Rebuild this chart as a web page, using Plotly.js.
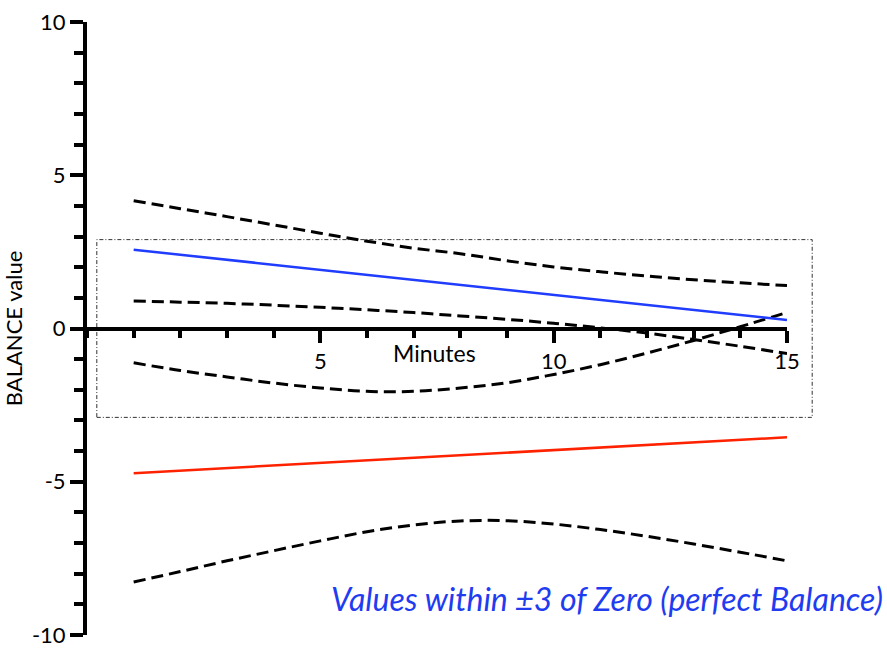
<!DOCTYPE html>
<html>
<head>
<meta charset="utf-8">
<script src="https://cdn.plot.ly/plotly-3.0.1.min.js"></script>
<style>html,body{margin:0;padding:0;background:#fff;}#chart{width:887px;height:648px;}</style>
</head>
<body>
<div id="chart"></div>
<script>
// ---- data ----
const minutes = [1,2,3,4,5,6,7,8,9,10,11,12,13,14,15];
const lineX = [1, 15];
const blueFit = [2.57, 0.28];
const redFit = [-4.72, -3.55];
const blueUpper = [4.17,3.91,3.65,3.38,3.11,2.85,2.62,2.44,2.21,2.01,1.85,1.71,1.59,1.49,1.40];
const blueLower = [0.90,0.86,0.82,0.76,0.69,0.61,0.52,0.41,0.30,0.17,0.02,-0.15,-0.36,-0.58,-0.82];
const redUpper = [-1.12,-1.37,-1.58,-1.78,-1.94,-2.05,-2.05,-1.94,-1.77,-1.50,-1.18,-0.80,-0.39,0.06,0.52];
const redLower = [-8.27,-7.93,-7.58,-7.25,-6.93,-6.63,-6.41,-6.28,-6.27,-6.38,-6.56,-6.78,-7.03,-7.30,-7.58];
const yTickVals = [-10,-5,0,5,10];
const yTickText = ['-10','-5','0','5','10'];
const xTickVals = [5,10,15];
const xTickText = ['5','10','15'];
const balanceBand = [-2.9, 2.9];
const boxX = [0.21, 15.54];
const noteText = 'Values within \u00B13 of Zero (perfect Balance)';

const FONT = "Lato, 'Noto Sans', sans-serif";
const dashStyle = {color:'#000', width:3, dash:'12px,6px'};

function band(y){
  return {x:minutes, y:y, mode:'lines', line:Object.assign({shape:'spline'}, dashStyle),
          showlegend:false, hoverinfo:'skip', cliponaxis:false};
}

const traces = [
  band(blueUpper), band(blueLower), band(redUpper), band(redLower),
  {x:lineX, y:blueFit, mode:'lines', line:{color:'#1f3cff', width:2.5}, showlegend:false, cliponaxis:false},
  {x:lineX, y:redFit, mode:'lines', line:{color:'#ff2200', width:2.5}, showlegend:false, cliponaxis:false}
];

const xRange = [0, 15];
const toPaper = v => (v - xRange[0]) / (xRange[1] - xRange[0]);

const layout = {
  width:887, height:648,
  margin:{l:87, r:100, t:22, b:13},
  paper_bgcolor:'#fff', plot_bgcolor:'#fff',
  font:{family:FONT, color:'#000', size:22},
  xaxis:{
    range:xRange, anchor:'free', position:0.5, side:'bottom',
    showline:true, linewidth:4, linecolor:'#000',
    ticks:'outside', ticklen:12, tickwidth:4, tickcolor:'#000',
    tickvals:xTickVals, ticktext:xTickText,
    tickfont:{family:FONT, size:22, color:'#000'},
    minor:{dtick:1, ticks:'outside', ticklen:7, tickwidth:4, tickcolor:'#000', showgrid:false},
    showgrid:false, zeroline:false
  },
  yaxis:{
    range:[-10,10], showline:true, linewidth:4, linecolor:'#000',
    ticks:'outside', ticklen:13, tickwidth:4, tickcolor:'#000',
    tickvals:yTickVals, ticktext:yTickText, ticklabeloverflow:'allow',
    tickfont:{family:FONT, size:22, color:'#000'},
    minor:{dtick:1, ticks:'outside', ticklen:9, tickwidth:4, tickcolor:'#000', showgrid:false},
    showgrid:false, zeroline:false,
    title:{text:'BALANCE value', font:{family:FONT, size:22, color:'#000'}, standoff:4}
  },
  shapes:[{
    type:'rect', xref:'paper', yref:'y',
    x0:toPaper(boxX[0]), x1:toPaper(boxX[1]), y0:balanceBand[0], y1:balanceBand[1],
    line:{color:'#333', width:1, dash:'4px,2px,1px,2px'}, layer:'below'
  }],
  annotations:[
    {text:'Minutes', xref:'x', yref:'y', x:7.45, y:0, yanchor:'middle', xanchor:'center',
     yshift:-24, showarrow:false, font:{family:FONT, size:23, color:'#000'}},
    {text:noteText, xref:'paper', yref:'y', x:toPaper(17.1), y:-8.8, xanchor:'right', yanchor:'middle',
     showarrow:false, font:{family:FONT, size:32, color:'#1f3cf0', style:'italic'}}
  ]
};

Plotly.newPlot('chart', traces, layout, {displayModeBar:false, staticPlot:true});
</script>
</body>
</html>
